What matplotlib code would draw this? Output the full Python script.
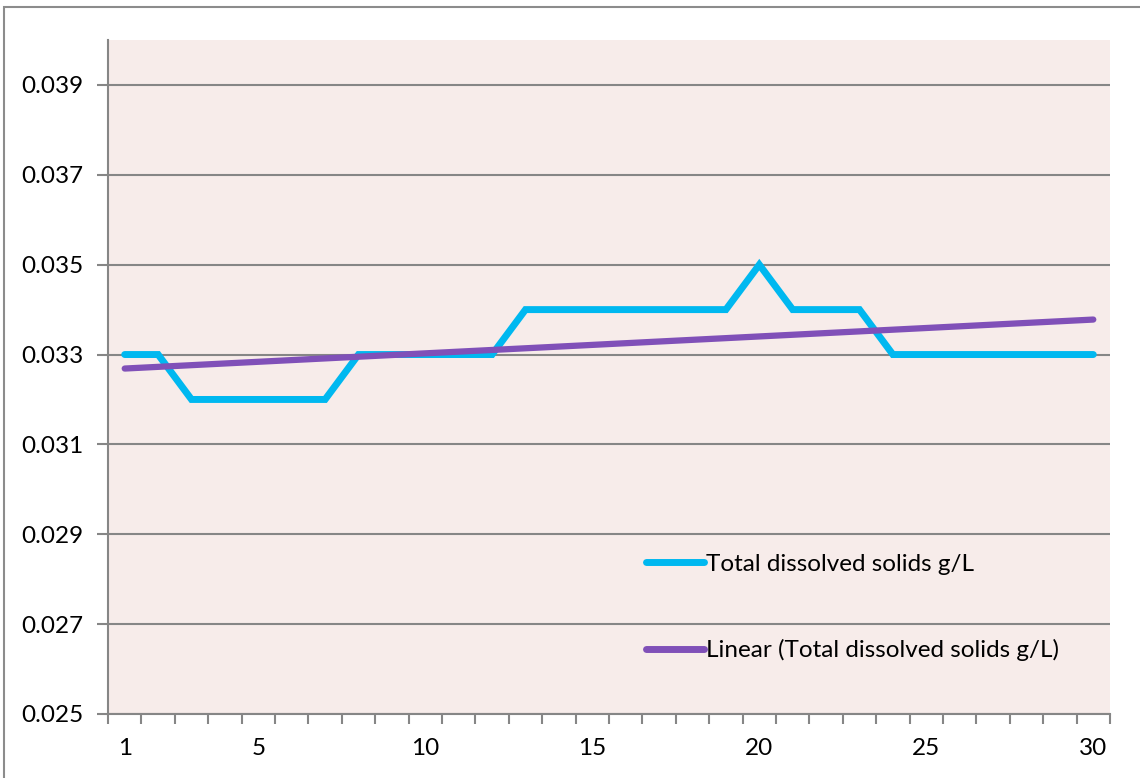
import numpy as np
import matplotlib.pyplot as plt
from matplotlib.patches import Rectangle
from matplotlib.ticker import FormatStrFormatter

plt.rcParams['font.family'] = ['Lato', 'DejaVu Sans']

# daily readings
days = list(range(1, 31))
tds = [0.033, 0.033, 0.032, 0.032, 0.032, 0.032, 0.032, 0.033, 0.033, 0.033,
       0.033, 0.033, 0.034, 0.034, 0.034, 0.034, 0.034, 0.034, 0.034, 0.035,
       0.034, 0.034, 0.034, 0.033, 0.033, 0.033, 0.033, 0.033, 0.033, 0.033]
x_labels = [1, 5, 10, 15, 20, 25, 30]
y_ticks = [0.025, 0.027, 0.029, 0.031, 0.033, 0.035, 0.037, 0.039]

grid_col = '#868686'
series_label = 'Total dissolved solids g/L'
fs = 17.5

fig = plt.figure(figsize=(11.4, 7.78), dpi=100)
fig.patches.append(Rectangle((4 / 1140, -0.01), 1.1, 1 - 7 / 778 + 0.01,
                             transform=fig.transFigure, fill=False,
                             edgecolor='#8c8c8c', linewidth=1.5))
ax = fig.add_axes([108 / 1140, 1 - 714 / 778, 1002 / 1140, 674 / 778])
ax.set_facecolor('#F7ECEA')

# linear trend through the readings
slope, intercept = np.polyfit(days, tds, 1)
trend = [slope * d + intercept for d in days]

ax.plot(days, tds, color='#00B8F0', linewidth=5, solid_capstyle='round',
        solid_joinstyle='miter', label=series_label, zorder=3)
ax.plot(days, trend, color='#8050B8', linewidth=4.5, solid_capstyle='round',
        label=f'Linear ({series_label})', zorder=4)

ax.set_xlim(0.5, 30.5)
ax.set_ylim(0.025, 0.040)
ax.set_yticks(y_ticks)
ax.yaxis.set_major_formatter(FormatStrFormatter('%.3f'))
ax.set_xticks(x_labels)
ax.set_xticks(np.arange(0.5, 31, 1), minor=True)
ax.tick_params(axis='x', which='major', length=0, pad=17, labelsize=fs)
ax.tick_params(axis='x', which='minor', length=7, width=1.5, color=grid_col)
ax.tick_params(axis='y', length=8, width=1.5, color=grid_col, pad=10, labelsize=fs)
ax.grid(axis='y', color=grid_col, linewidth=1.5)
ax.set_axisbelow(True)

for side in ['top', 'right']:
    ax.spines[side].set_visible(False)
for side in ['left', 'bottom']:
    ax.spines[side].set_color(grid_col)
    ax.spines[side].set_linewidth(1.5)

leg = ax.legend(loc='upper left', bbox_to_anchor=(0.527, 0.252), frameon=False,
                fontsize=fs, handlelength=2.4, handletextpad=0.08,
                labelspacing=2.65, borderaxespad=0)
for line in leg.get_lines():
    line.set_linewidth(5)
    line.set_solid_capstyle('round')

fig.savefig('out.png', dpi=100)
